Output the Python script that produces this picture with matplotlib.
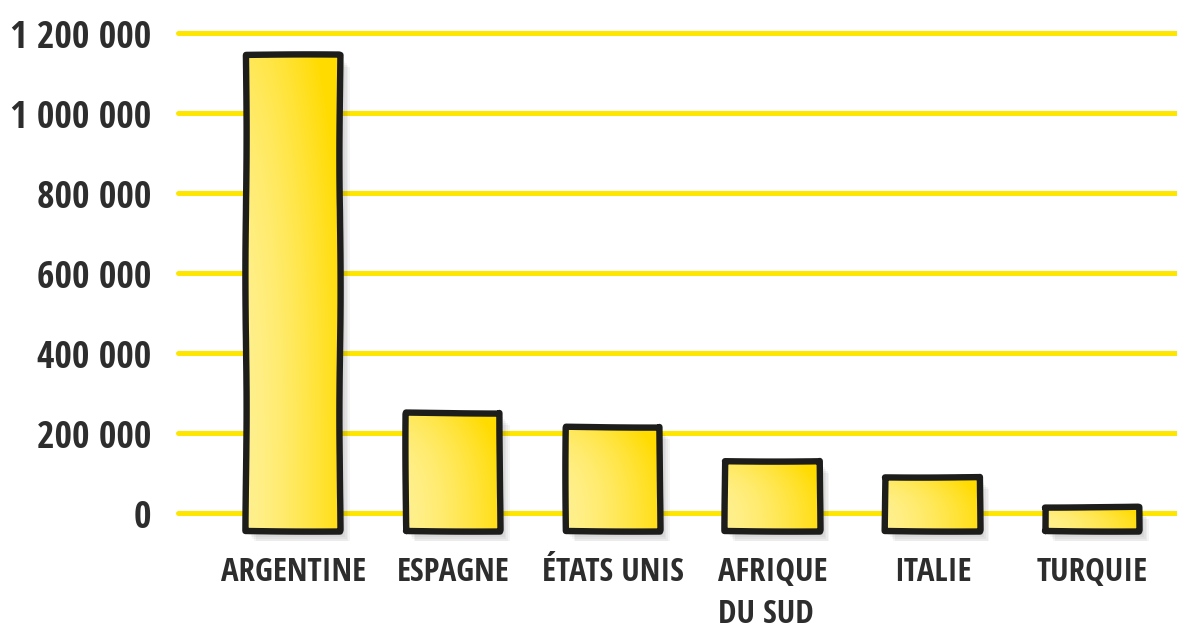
import numpy as np
import matplotlib
matplotlib.use("Agg")
import matplotlib.pyplot as plt
from matplotlib import font_manager
from matplotlib.textpath import TextPath
from matplotlib.patches import Rectangle
from matplotlib import transforms

# données (production de citrons, tonnes)
pays = ["ARGENTINE", "ESPAGNE", "ÉTATS UNIS", "AFRIQUE\nDU SUD", "ITALIE", "TURQUIE"]
production = [1145000, 250000, 216000, 130000, 91000, 15000]
base_barre = -45000  # les barres descendent un peu sous le zéro
graduations = [0, 200000, 400000, 600000, 800000, 1000000, 1200000]
etiquettes_y = ["0", "200 000", "400 000", "600 000", "800 000", "1 000 000", "1 200 000"]

# choisir une police sans empattement, grasse et étroite, proche de l'original
familles = ('noto sans', 'roboto', 'open sans', 'lato', 'inter', 'dejavu sans', 'liberation sans')
cible = 5.2  # largeur / hauteur de "ARGENTINE" dans l'image d'origine
police, meilleur = None, 1e9
for f in font_manager.fontManager.ttflist:
    nom = f.name.lower()
    if not nom.startswith(familles) or 'mono' in nom or 'cjk' in nom or 'math' in nom:
        continue
    if f.style != 'normal' or 'italic' in f.fname.lower():
        continue
    w = f.weight if isinstance(f.weight, (int, float)) else font_manager.weight_dict.get(f.weight, 400)
    if w < 700:
        continue
    try:
        fp = font_manager.FontProperties(fname=f.fname)
        ext = TextPath((0, 0), "ARGENTINE", size=10, prop=fp).get_extents()
    except Exception:
        continue
    ecart = abs(ext.width / max(ext.height, 1e-6) - cible) - 0.0005 * w
    if ecart < meilleur:
        meilleur, police = ecart, f
prop = dict(fontproperties=font_manager.FontProperties(fname=police.fname)) if police \
    else dict(fontweight='bold')

W, H = 1177, 637
fig = plt.figure(figsize=(W / 100, H / 100), dpi=100)
ax = fig.add_axes([178 / W, (H - 541) / H, (W - 178) / W, (541 - 13) / H])

gris = '#2d2d2d'
jaune_grille = '#FFE600'

for g in graduations:
    ax.axhline(g, color=jaune_grille, lw=3.6, solid_capstyle='round', zorder=1, clip_on=False)

x = np.arange(len(pays))
hauteurs = np.array(production) - base_barre
barres = ax.bar(x, hauteurs, bottom=base_barre, width=0.59, facecolor='none',
                edgecolor='#1d1d1b', linewidth=4.6, joinstyle='round', zorder=3)

# dégradé jaune
u = np.linspace(0, 1, 200)
X, Y = np.meshgrid(u, u)
t = np.clip(0.1 + 0.8 * X ** 1.4 + 0.35 * Y ** 3, 0, 1)[..., None]
clair = np.array([1.0, 0.95, 0.62])
dore = np.array([1.0, 0.86, 0.0])
rgb = clair * (1 - t) + dore * t

for b in barres:
    x0, y0 = b.get_xy()
    w, h = b.get_width(), b.get_height()
    # ombre portée douce
    for d in range(2, 13, 2):
        tr = transforms.offset_copy(ax.transData, fig=fig, x=d * 0.8, y=-d, units='dots')
        ax.add_patch(Rectangle((x0, y0), w, h, transform=tr, facecolor='black',
                               edgecolor='none', alpha=0.04, zorder=2))
    im = ax.imshow(rgb, extent=[x0, x0 + w, y0, y0 + h], origin='lower',
                   aspect='auto', interpolation='bicubic', zorder=2.5)
    im.set_clip_path(b)
    b.set_sketch_params(scale=0.6, length=300, randomness=2)

ax.set_xlim(-0.72, 5.53)
ax.set_ylim(-70000, 1250000)
for s in ax.spines.values():
    s.set_visible(False)

ax.set_yticks(graduations, etiquettes_y, **prop)
ax.set_xticks(x, pays, multialignment='left', linespacing=1.35, **prop)
ax.tick_params(axis='y', length=0, pad=19, labelcolor=gris)
ax.tick_params(axis='x', length=0, pad=11, labelcolor=gris)

# ajuster la taille pour que les textes tiennent dans la largeur voulue
fig.canvas.draw()
r = fig.canvas.get_renderer()
ly = ax.get_yticklabels()
lx = ax.get_xticklabels()
larg_y = max(l.get_window_extent(r).width for l in ly) / ly[0].get_fontsize()
larg_x = lx[0].get_window_extent(r).width / lx[0].get_fontsize()
taille_y = min(33, 140 / larg_y)
taille_x = min(28, 145 / larg_x)
for l in ly:
    l.set_fontsize(taille_y)
for l in lx:
    l.set_fontsize(taille_x)

fig.savefig("out.png", dpi=100, facecolor='white')
